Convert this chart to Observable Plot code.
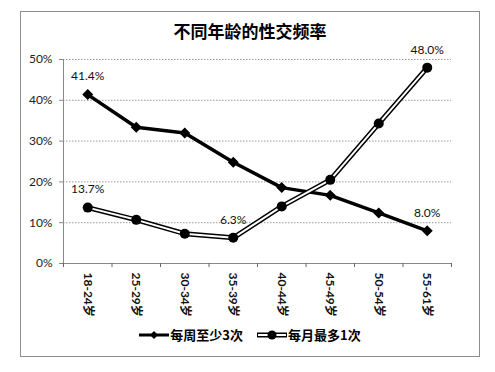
<!DOCTYPE html>
<html><head><meta charset="utf-8">
<script src="https://cdn.jsdelivr.net/npm/d3@7"></script>
<script src="https://cdn.jsdelivr.net/npm/@observablehq/plot@0.6"></script>
<style>
body{margin:0;background:#fff;font-family:Lato,"Noto Sans CJK SC",sans-serif;}
#frame{position:absolute;left:20px;top:11px;width:458px;height:344px;border:1px solid #8e8e8e;background:#fff;}
#title{position:absolute;left:0;top:8px;width:100%;text-align:center;font:bold 17px/22px "Noto Sans CJK SC",sans-serif;color:#000;}
#chart{position:absolute;left:0;top:0;}
#legend{position:absolute;left:0;top:314px;width:100%;display:flex;justify-content:center;align-items:center;font:bold 13px/18px "Noto Sans CJK SC",sans-serif;color:#000;}
#legend .item{display:flex;align-items:center;margin:0 7px;}
#legend svg{margin-right:1px;}
</style></head>
<body>
<div id="frame"><div id="chart"></div><div id="title">不同年龄的性交频率</div><div id="legend"></div></div>
<script>
const ages = ["18-24岁","25-29岁","30-34岁","35-39岁","40-44岁","45-49岁","50-54岁","55-61岁"];
const seriesNames = ["每周至少3次","每月最多1次"];
const weekly = [41.4, 33.4, 32.0, 24.8, 18.6, 16.7, 12.4, 8.0];
const monthly = [13.7, 10.7, 7.3, 6.3, 14.0, 20.5, 34.3, 48.0];
const yTicks = [0, 10, 20, 30, 40, 50];
const weeklyLabelIdx = [0, 7];
const monthlyLabelIdx = [0, 3, 7];

const weeklyData = weekly.map((v, i) => ({i, v}));
const monthlyData = monthly.map((v, i) => ({i, v}));
const weeklyLabels = weeklyLabelIdx.map(i => weeklyData[i]);
const monthlyLabels = monthlyLabelIdx.map(i => monthlyData[i]);
const idx = d3.range(ages.length);
const bounds = d3.range(ages.length + 1).map(i => i - 0.5);

const chart = Plot.plot({
  width: 458, height: 312,
  marginTop: 47, marginBottom: 61, marginLeft: 42, marginRight: 28,
  style: {fontFamily: 'Lato, "Noto Sans CJK SC", sans-serif', background: "transparent", overflow: "visible"},
  x: {type: "linear", domain: [-0.5, ages.length - 0.5]},
  y: {domain: [0, 50]},
  marks: [
    Plot.gridY(yTicks.filter(d => d > 0), {stroke: "#999", strokeOpacity: 1, strokeDasharray: "1.5,1.5"}),
    Plot.axisY(yTicks, {tickFormat: d => d + "%", tickSize: 4, tickPadding: 7, fontSize: 12, stroke: "#888", fill: "#222", label: null}),
    Plot.ruleX([-0.5], {stroke: "#888"}),
    Plot.ruleY([0], {stroke: "#888"}),
    Plot.axisX(bounds, {tickFormat: () => "", tickSize: 4, stroke: "#666", label: null}),
    Plot.axisX(idx, {tickFormat: i => ages[i], tickSize: 0, tickPadding: 9, tickRotate: 90, fontSize: 12, fontWeight: "bold", fill: "#111", label: null}),
    Plot.line(weeklyData, {x: "i", y: "v", stroke: "#000", strokeWidth: 3.5}),
    Plot.dot(weeklyData, {x: "i", y: "v", symbol: "diamond2", r: 4, fill: "#000", stroke: "#000"}),
    Plot.line(monthlyData, {x: "i", y: "v", stroke: "#000", strokeWidth: 5}),
    Plot.line(monthlyData, {x: "i", y: "v", stroke: "#fff", strokeWidth: 2}),
    Plot.dot(monthlyData, {x: "i", y: "v", r: 5, fill: "#000"}),
    Plot.text(weeklyLabels, {x: "i", y: "v", text: d => d.v.toFixed(1) + "%", dy: -18, fontSize: 12, fill: "#111"}),
    Plot.text(monthlyLabels, {x: "i", y: "v", text: d => d.v.toFixed(1) + "%", dy: -18, fontSize: 12, fill: "#111"})
  ]
});
document.getElementById("chart").appendChild(chart);

const legend = document.getElementById("legend");
const icons = [
  `<svg width="30" height="12"><line x1="0" y1="6" x2="30" y2="6" stroke="#000" stroke-width="3"/><path d="M15 2 L19 6 L15 10 L11 6 Z" fill="#000"/></svg>`,
  `<svg width="30" height="12"><line x1="0" y1="6" x2="30" y2="6" stroke="#000" stroke-width="5"/><line x1="1" y1="6" x2="29" y2="6" stroke="#fff" stroke-width="2"/><circle cx="15" cy="6" r="4.5" fill="#000"/></svg>`
];
seriesNames.forEach((name, k) => {
  const item = document.createElement("div");
  item.className = "item";
  item.innerHTML = icons[k] + `<span>${name}</span>`;
  legend.appendChild(item);
});
</script>
</body></html>
